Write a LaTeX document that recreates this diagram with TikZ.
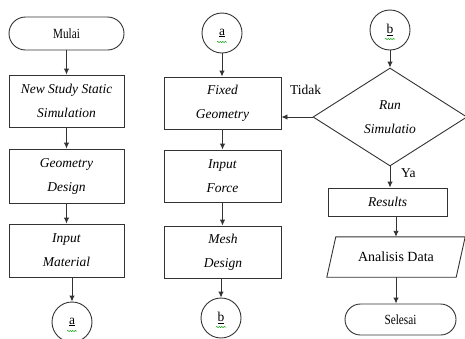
\documentclass[tikz,border=0pt]{standalone}
\usepackage{fontspec}
\setmainfont{Liberation Serif}
\newfontfamily\condfont[FakeStretch=0.8]{Liberation Serif}
\usetikzlibrary{arrows.meta,shapes.geometric,decorations.pathmorphing}
\begin{document}
\begin{tikzpicture}[x=1pt,y=-1pt,
  every node/.style={font=\fontsize{13.5}{24}\selectfont, inner sep=0pt, align=center},
  lw/.style={draw=black!80, line width=0.9pt},
  box/.style={lw, minimum width=115pt, minimum height=52pt},
  term/.style={lw, font=\condfont\fontsize{14}{16}\selectfont},
  conn/.style={lw, circle, minimum size=40pt},
  arr/.style={lw, -{Latex[length=6pt,width=5.5pt]}},
  spell/.style={draw=green!60!black, line width=0.5pt, decorate, decoration={snake, amplitude=0.6pt, segment length=2.5pt}},
]
\useasboundingbox (0,0) rectangle (465,338);

% column 1
\node[term, minimum width=115pt, minimum height=33pt, rounded corners=16.5pt] (mulai) at (66.5,33.5) {Mulai};
\node[box] (b1) at (66.5,101) {\textit{New Study Static}\\\textit{Simulation}};
\node[box, minimum height=54pt] (b2) at (66.5,176) {\textit{Geometry}\\\textit{Design}};
\node[box, minimum height=53pt] (b3) at (66.5,250.5) {\textit{Input}\\\textit{Material}};
\node[conn] (ca) at (72,322) {\underline{a}};

% column 2
\node[conn] (cA) at (222,33) {\underline{a}};
\node[box, minimum width=117pt] (f1) at (222.5,103) {\textit{Fixed}\\\textit{Geometry}};
\node[box, minimum width=117pt] (f2) at (222.5,176) {\textit{Input}\\\textit{Force}};
\node[box, minimum width=117pt] (f3) at (223,252) {\textit{Mesh}\\\textit{Design}};
\node[conn] (cB) at (221,318) {\underline{b}};

% column 3
\node[conn] (cb) at (390,30) {\underline{b}};
\node[lw, diamond, minimum width=154pt, minimum height=98pt, aspect=1.57] (dia) at (390,117) {\textit{Run}\\\textit{Simulatio}};
\node[lw, minimum width=119pt, minimum height=28pt] (res) at (387.5,202) {\textit{Results}};
\node[minimum width=129pt, minimum height=40pt, font=\fontsize{14}{16}\selectfont] (ad) at (396,257) {Analisis Data};
\draw[lw] ([xshift=4.5pt]ad.north west) -- ([xshift=4.5pt]ad.north east) -- ([xshift=-4.5pt]ad.south east) -- ([xshift=-4.5pt]ad.south west) -- cycle;
\node[term, minimum width=111pt, minimum height=31pt, rounded corners=15.5pt] (sel) at (400.5,319.5) {Selesai};

\node[anchor=west] (tidak) at (290,90) {Tidak};
\node[anchor=west] (ya) at (401,173) {Ya};

% spell-check squiggles
\foreach \n in {ca,cA,cB,cb} {
  \draw[spell] ([xshift=-5pt,yshift=-9pt]\n.center) -- ++(10pt,0);
}

% connectors
\draw[arr] (mulai.south) -- (b1.north);
\draw[arr] (b1.south) -- (b2.north);
\draw[arr] (b2.south) -- (b3.north);
\draw[arr] (b3.south -| ca) -- (ca.north);
\draw[arr] (cA.south) -- (cA.south |- f1.north);
\draw[arr] (f1.south) -- (f1.south |- f2.north);
\draw[arr] (f2.south) -- (f2.south |- f3.north);
\draw[arr] (f3.south -| cB) -- (cB.north);
\draw[arr] (cb.south) -- (dia.north);
\draw[arr] (dia.west) -- (dia.west -| f1.east);
\draw[arr] (dia.south) -- (dia.south |- res.north);
\draw[arr] (res.south -| ad) -- (ad.north);
\draw[arr] (ad.south) -- (ad.south |- sel.north);
\end{tikzpicture}
\end{document}
